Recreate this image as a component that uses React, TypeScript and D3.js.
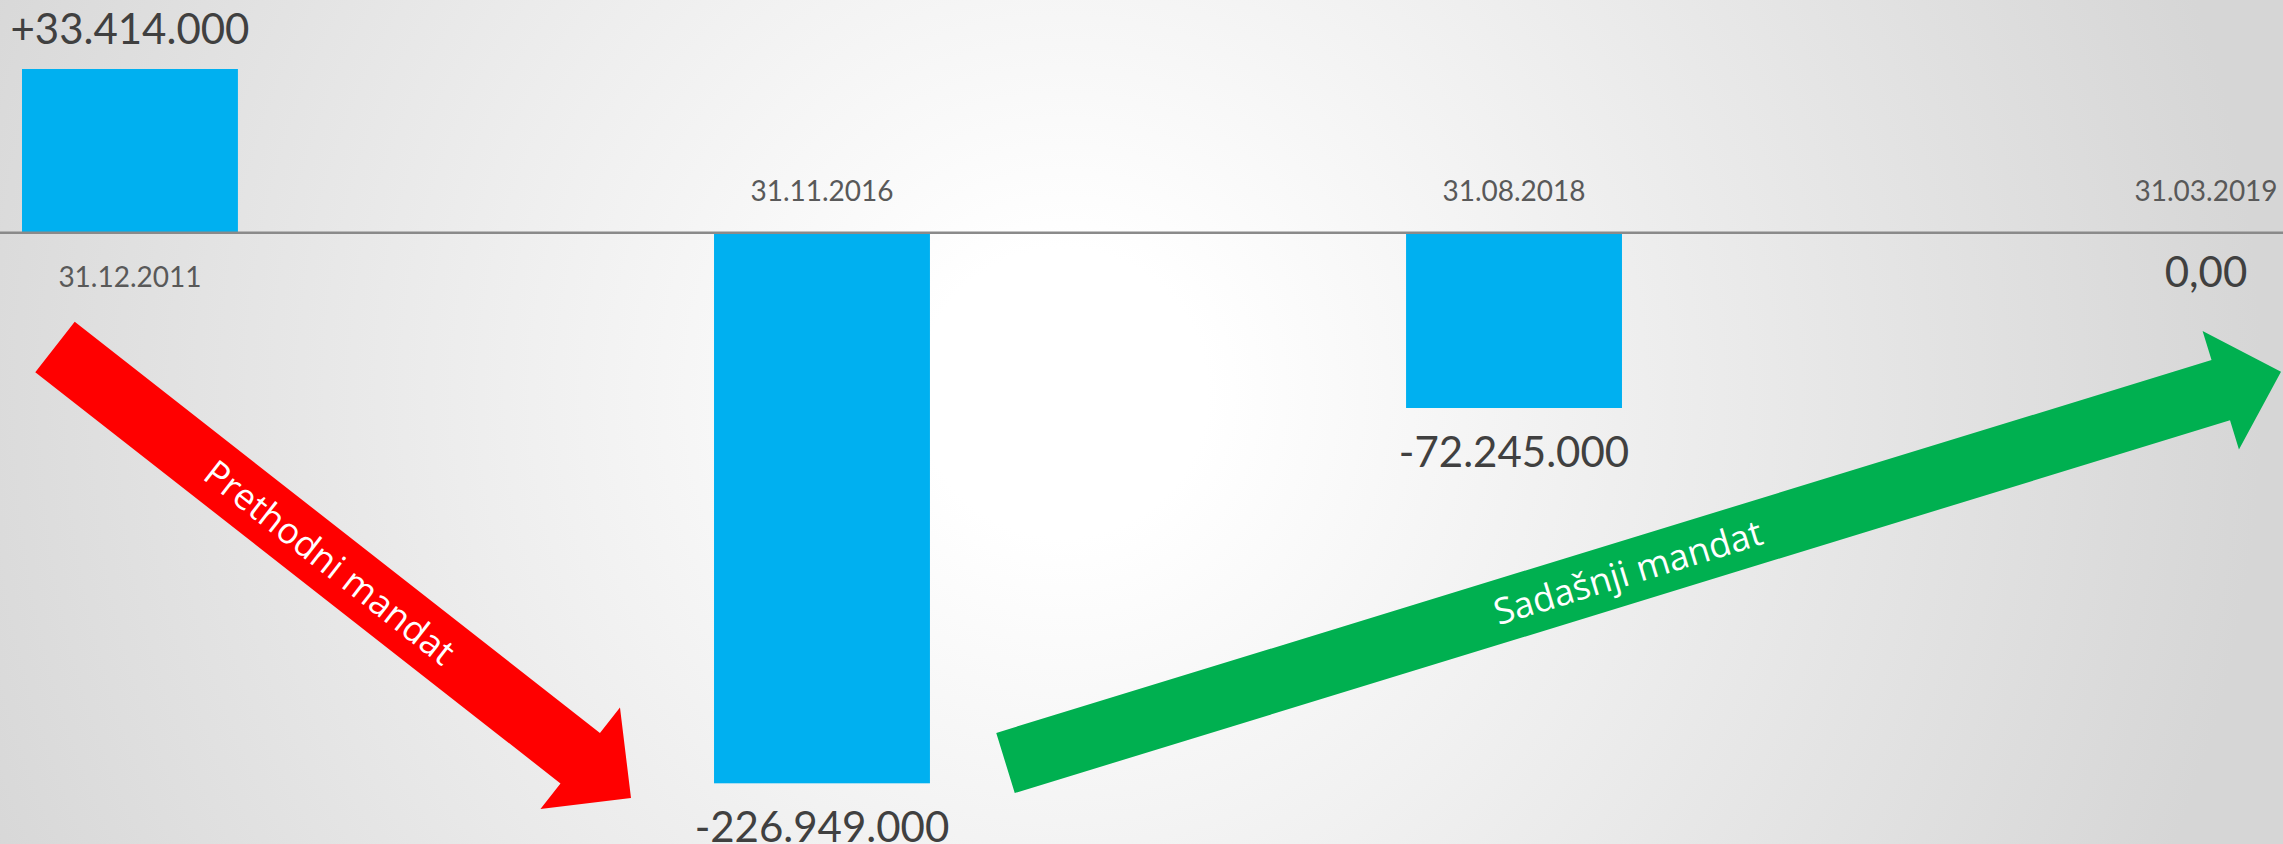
import React from "react";
import * as d3 from "d3";

// ---- data ----
const categories = ["31.12.2011", "31.11.2016", "31.08.2018", "31.03.2019"];
const valueLabels = ["+33.414.000", "-226.949.000", "-72.245.000", "0,00"];
// bar lengths as drawn in the picture (millions)
const plottedValues = [67.5, -226.949, -72.245, 0];

const arrowLabels = ["Prethodni mandat", "Sadašnji mandat"];
const arrowColors = ["#FF0000", "#00B050"];

const W = 2283;
const H = 844;

type Pt = [number, number];
interface ArrowSpec {
  tail: Pt;
  tip: Pt;
  shaft: number;
  headW: number;
  headL: number;
  textAt: number;
}

const arrowSpecs: ArrowSpec[] = [
  { tail: [55, 347], tip: [631, 798], shaft: 64, headW: 129, headL: 64.5, textAt: 349 },
  { tail: [1005.5, 763], tip: [2281, 371.7], shaft: 63, headW: 124, headL: 63, textAt: 651 },
];

function arrowGeom(a: ArrowSpec) {
  const dx = a.tip[0] - a.tail[0];
  const dy = a.tip[1] - a.tail[1];
  const len = Math.hypot(dx, dy);
  const u: Pt = [dx / len, dy / len];
  const n: Pt = [-u[1], u[0]];
  const B: Pt = [a.tip[0] - u[0] * a.headL, a.tip[1] - u[1] * a.headL];
  const off = (p: Pt, k: number): Pt => [p[0] + n[0] * k, p[1] + n[1] * k];
  const pts: Pt[] = [
    off(a.tail, a.shaft / 2),
    off(B, a.shaft / 2),
    off(B, a.headW / 2),
    a.tip,
    off(B, -a.headW / 2),
    off(B, -a.shaft / 2),
    off(a.tail, -a.shaft / 2),
  ];
  const path = d3.line()(pts) + "Z";
  const angle = (Math.atan2(dy, dx) * 180) / Math.PI;
  const tc: Pt = [a.tail[0] + u[0] * a.textAt, a.tail[1] + u[1] * a.textAt];
  return { path, angle, tc };
}

export default function App() {
  const x = d3
    .scaleBand<string>()
    .domain(categories)
    .range([22, 2314])
    .paddingInner(0.688)
    .paddingOuter(0);
  const y = d3.scaleLinear().domain([-226.949, 67.5]).range([783.3, 69]);
  const y0 = y(0);

  const numFont = "Lato, 'Open Sans', sans-serif";

  return (
    <svg
      width={W}
      height={H}
      style={{ position: "absolute", left: 0, top: 0, display: "block" }}
    >
      <defs>
        <radialGradient
          id="bg"
          gradientUnits="userSpaceOnUse"
          cx={1063}
          cy={393}
          r={1200}
        >
          <stop offset="0" stopColor="#ffffff" />
          <stop offset="0.12" stopColor="#ffffff" />
          <stop offset="1" stopColor="#d6d6d6" />
        </radialGradient>
      </defs>
      <rect x={0} y={0} width={W} height={H} fill="url(#bg)" />

      {/* bars */}
      {categories.map((c, i) => {
        const v = plottedValues[i];
        const yv = y(v);
        return (
          <rect
            key={c}
            x={x(c)}
            width={x.bandwidth()}
            y={Math.min(yv, y0)}
            height={Math.abs(yv - y0)}
            fill="#00B0F0"
          />
        );
      })}

      {/* zero line */}
      <line x1={0} x2={W} y1={y0} y2={y0} stroke="#8a8a8a" strokeWidth={2.5} />

      {/* category (date) labels */}
      {categories.map((c, i) => {
        const v = plottedValues[i];
        const cx = (x(c) as number) + x.bandwidth() / 2;
        const ty = v > 0 ? y0 + 54 : y0 - 32;
        return (
          <text
            key={"d" + c}
            x={cx}
            y={ty}
            textAnchor="middle"
            fontFamily={numFont}
            fontSize={28}
            fill="#595959"
          >
            {c}
          </text>
        );
      })}

      {/* value labels */}
      {categories.map((c, i) => {
        const v = plottedValues[i];
        const cx = (x(c) as number) + x.bandwidth() / 2;
        const ty = v > 0 ? y(v) - 25 : v < 0 ? y(v) + 59 : y0 + 54;
        return (
          <text
            key={"v" + c}
            x={cx}
            y={ty}
            textAnchor="middle"
            fontFamily={numFont}
            fontSize={42}
            fill="#404040"
          >
            {valueLabels[i]}
          </text>
        );
      })}

      {/* arrows */}
      {arrowSpecs.map((a, i) => {
        const g = arrowGeom(a);
        return (
          <g key={"a" + i}>
            <path d={g.path} fill={arrowColors[i]} />
            <text
              transform={`translate(${g.tc[0]},${g.tc[1]}) rotate(${g.angle})`}
              textAnchor="middle"
              dy="0.36em"
              fontFamily="'Open Sans', sans-serif"
              fontSize={36}
              fill="#ffffff"
            >
              {arrowLabels[i]}
            </text>
          </g>
        );
      })}
    </svg>
  );
}
